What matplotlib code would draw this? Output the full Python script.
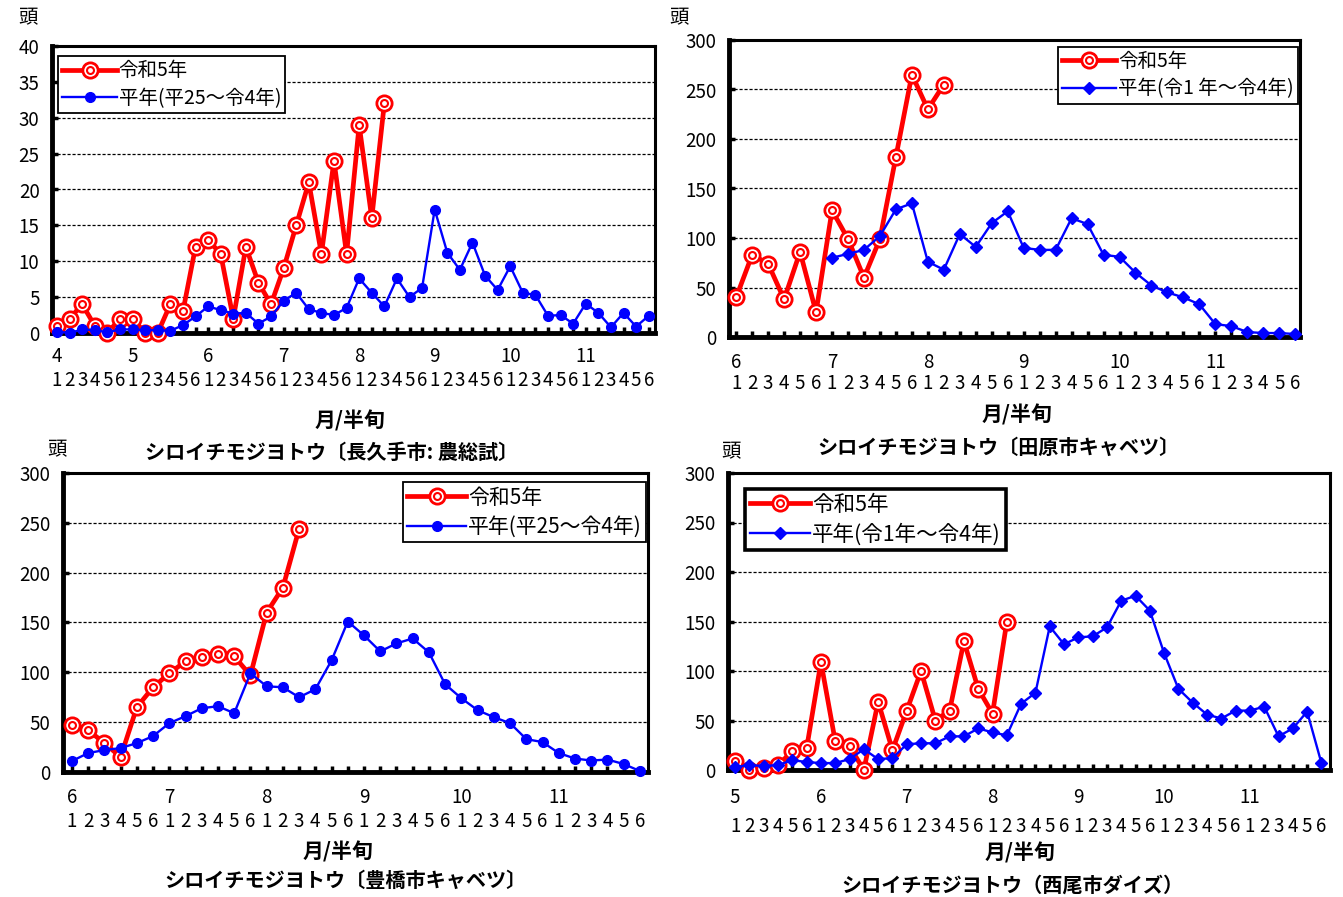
import matplotlib
matplotlib.use("Agg")
import matplotlib.pyplot as plt
from matplotlib.lines import Line2D

plt.rcParams['font.family'] = ['Liberation Sans Narrow', 'Noto Sans CJK JP', 'DejaVu Sans']
JP = ['Noto Sans CJK JP', 'DejaVu Sans']

# 長久手市:農総試  (4月1半旬～11月6半旬)
naga_months = [4, 5, 6, 7, 8, 9, 10, 11]
naga_r5 = [1, 2, 4, 1, 0, 2, 2, 0, 0, 4, 3, 12, 13, 11, 2, 12, 7, 4, 9, 15,
           21, 11, 24, 11, 29, 16, 32]
naga_avg = [0.2, 0, 0.5, 0.4, 0.1, 0.5, 0.5, 0.4, 0.4, 0.3, 1.1, 2.3, 3.7, 3.2,
            2.7, 2.8, 1.3, 2.3, 4.5, 5.6, 3.3, 2.8, 2.5, 3.5, 7.6, 5.6, 3.7,
            7.6, 5.0, 6.3, 17.2, 11.2, 8.8, 12.6, 8.0, 6.0, 9.3, 5.6, 5.3, 2.4,
            2.5, 1.3, 4.1, 2.8, 0.8, 2.8, 0.9, 2.4]

# 田原市キャベツ (6月1半旬～11月6半旬), 平年は7月1半旬から
tahara_months = [6, 7, 8, 9, 10, 11]
tahara_r5 = [40, 83, 74, 38, 86, 25, 128, 99, 60, 99, 182, 265, 230, 255]
tahara_avg_start = 6
tahara_avg = [80, 84, 88, 102, 129, 135, 76, 68, 104, 91, 115, 127, 90, 88, 88,
              120, 114, 83, 81, 65, 52, 45, 40, 33, 13, 11, 5, 4, 4, 3]

# 豊橋市キャベツ (6月1半旬～11月6半旬)
toyo_months = [6, 7, 8, 9, 10, 11]
toyo_r5 = [47, 42, 29, 15, 65, 85, 99, 111, 115, 118, 116, 97, 160, 185, 244]
toyo_avg = [11, 19, 22, 24, 29, 36, 49, 56, 64, 66, 59, 99, 86, 85, 75, 83, 112,
            151, 137, 121, 129, 134, 120, 88, 74, 62, 55, 49, 33, 30, 19, 13.5,
            11.5, 12.5, 8, 1]

# 西尾市ダイズ (5月1半旬～11月6半旬)
nishio_months = [5, 6, 7, 8, 9, 10, 11]
nishio_r5 = [9, 0, 2, 5, 19, 22, 109, 29, 24, 0, 69, 20, 60, 100, 50, 60, 130,
             82, 57, 150]
nishio_avg = [3, 5, 4, 5, 10, 8, 7, 7, 11, 21, 11, 12, 26, 27, 27, 34, 34, 42,
              38, 35, 67, 78, 145, 127, 134, 135, 144, 171, 176, 161, 118, 82,
              68, 56, 52, 60, 60, 64, 34, 42, 59, 7]

W, H = 1343, 897
fig = plt.figure(figsize=(W / 100, H / 100), dpi=100)


def px_axes(left, top, right, bottom):
    return fig.add_axes([left / W, 1 - bottom / H, (right - left) / W, (bottom - top) / H])


def panel(ax, months, r5, avg, avg_start, ymax, ystep, avg_marker, avg_label,
          loc, anchor, frame_lw, xpad_left, xpad_right, month_off, half_pad,
          leg_size):
    n = len(months) * 6
    xs_r = list(range(len(r5)))
    xs_a = list(range(avg_start, avg_start + len(avg)))

    ax.plot(xs_r, r5, color='#ff0000', lw=3.4, marker='o', ms=11, mfc='white',
            mec='#ff0000', mew=2, zorder=3, clip_on=False)
    ax.plot(xs_r, r5, ls='none', marker='o', ms=5, mfc='none', mec='#ff0000',
            mew=1.5, zorder=3.1, clip_on=False)
    ms = 7 if avg_marker == 'o' else 6.5
    ax.plot(xs_a, avg, color='#0000ff', lw=1.7, marker=avg_marker, ms=ms,
            mfc='#0000ff', mec='#0000ff', zorder=4, clip_on=False)

    ax.set_xlim(-xpad_left, n - 1 + xpad_right)
    ax.set_ylim(0, ymax)
    ax.set_yticks(range(0, ymax + 1, ystep))
    ax.yaxis.grid(True, color='black', lw=0.9, ls=(0, (2.5, 1.5)))
    ax.set_axisbelow(True)

    # 半旬 (1-6) as tick labels, 月 above them
    ax.set_xticks(range(n))
    ax.set_xticklabels([str(i % 6 + 1) for i in range(n)])
    ax.tick_params(axis='x', direction='in', length=4, width=2.5,
                   pad=half_pad, labelsize=13.5)
    ax.tick_params(axis='y', direction='in', length=4, width=2.5, pad=9,
                   labelsize=13.5)
    for k, m in enumerate(months):
        ax.annotate(str(m), xy=(k * 6, 0), xycoords=('data', 'axes fraction'),
                    xytext=(0, -month_off), textcoords='offset points',
                    ha='center', va='center', fontsize=13.5)

    for side in ['left', 'bottom']:
        ax.spines[side].set_linewidth(3.5)
    for side in ['top', 'right']:
        ax.spines[side].set_linewidth(2.2)

    red_h = (Line2D([], [], color='#ff0000', lw=3.4, marker='o', ms=11,
                    mfc='white', mec='#ff0000', mew=2),
             Line2D([], [], ls='none', marker='o', ms=5, mfc='none',
                    mec='#ff0000', mew=1.5))
    blue_h = Line2D([], [], color='#0000ff', lw=1.7, marker=avg_marker, ms=ms,
                    mfc='#0000ff', mec='#0000ff')
    leg = ax.legend([red_h, blue_h], ['令和5年', avg_label], loc=loc,
                    bbox_to_anchor=anchor, prop={'family': JP, 'size': leg_size},
                    fancybox=False, framealpha=1, edgecolor='black',
                    handlelength=2.8, handletextpad=0.1, borderpad=0.22,
                    labelspacing=0.35, borderaxespad=0)
    leg.get_frame().set_linewidth(frame_lw)
    leg.set_zorder(10)


def ftext(x, y, s, size=14.5, weight='normal'):
    fig.text(x / W, 1 - y / H, s, ha='center', va='center', family=JP,
             size=size, weight=weight)


ax1 = px_axes(52, 46, 655, 333)
panel(ax1, naga_months, naga_r5, naga_avg, 0, 40, 5, 'o', '平年(平25～令4年)',
      'upper left', (0.01, 0.965), 1.3, 0.4, 0.5, 16.6, 27, 14)
ax2 = px_axes(729, 40, 1300, 337)
panel(ax2, tahara_months, tahara_r5, tahara_avg, tahara_avg_start, 300, 50, 'D',
      '平年(令1 年～令4年)', 'upper right', (0.997, 0.978), 1.3, 0.45, 0.3,
      18, 26, 14)
ax3 = px_axes(63, 473, 648, 772)
panel(ax3, toyo_months, toyo_r5, toyo_avg, 0, 300, 50, 'o', '平年(平25～令4年)',
      'upper right', (0.997, 0.97), 1.3, 0.55, 0.5, 18.7, 28, 15)
ax4 = px_axes(728, 473, 1330, 770)
panel(ax4, nishio_months, nishio_r5, nishio_avg, 0, 300, 50, 'D',
      '平年(令1年～令4年)', 'upper left', (0.028, 0.946), 2.6, 0.5, 0.6,
      20, 33, 15.5)

ftext(28, 18, '頭', 14)
ftext(679, 18, '頭', 14)
ftext(57, 450, '頭', 14)
ftext(731, 452, '頭', 14)

ftext(350, 421, '月/半旬', 15, 'bold')
ftext(332, 452, 'シロイチモジヨトウ〔長久手市: 農総試〕', 14.5, 'bold')
ftext(1017, 415, '月/半旬', 15, 'bold')
ftext(998, 447, 'シロイチモジヨトウ〔田原市キャベツ〕', 14.5, 'bold')
ftext(338, 852, '月/半旬', 15, 'bold')
ftext(345, 880, 'シロイチモジヨトウ〔豊橋市キャベツ〕', 14.5, 'bold')
ftext(1020, 853, '月/半旬', 15, 'bold')
ftext(1012, 885, 'シロイチモジヨトウ（西尾市ダイズ）', 14.5, 'bold')

fig.savefig('out.png', dpi=100)
